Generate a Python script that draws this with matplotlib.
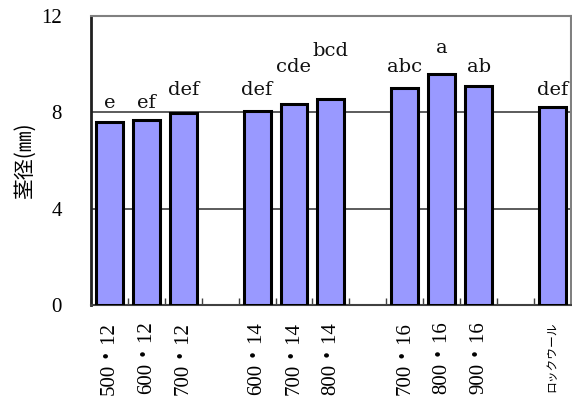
import matplotlib.pyplot as plt
import numpy as np

# データ
labels = ["500・12", "600・12", "700・12",
          "600・14", "700・14", "800・14",
          "700・16", "800・16", "900・16",
          "ロックウール"]
values = [7.6, 7.68, 7.97, 8.04, 8.35, 8.55, 9.01, 9.61, 9.09, 8.22]
letters = ["e", "ef", "def", "def", "cde", "bcd", "abc", "a", "ab", "def"]
slots = [0, 1, 2, 4, 5, 6, 8, 9, 10, 12]   # 空きスロットでグループを区切る
n_slots = 13

# 文字の高さ(段違い)
letter_y = [8.18, 8.18, 8.72, 8.72, 9.68, 10.34, 9.68, 10.48, 9.68, 8.72]

serif = ["Liberation Serif", "Noto Sans CJK JP"]

fig = plt.figure(figsize=(5.72, 4.03), dpi=100)
ax = fig.add_axes([0.159, 0.243, 0.839, 0.717])

x = np.array(slots)
ax.bar(x, values, width=0.73, color="#9999FF", edgecolor="black", linewidth=2.2, zorder=3)

for xi, t, yy in zip(x, letters, letter_y):
    ax.text(xi, yy, t, ha="center", va="baseline", fontsize=14, family="DejaVu Serif", color="#111111")

ax.set_xlim(-0.5, n_slots - 0.5)
ax.set_ylim(0, 12)
ax.set_yticks([0, 4, 8, 12])
ax.set_yticklabels(["0", "4", "8", "12"], family=serif, fontsize=15)
ax.tick_params(axis="y", length=0, pad=21)

ax.set_xticks(x)
ax.set_xticklabels(labels, rotation=90, family=serif, fontsize=15)
ax.get_xticklabels()[-1].set_fontsize(8.5)
ax.tick_params(axis="x", length=0, pad=12)
ax.set_xticks(np.arange(n_slots + 1) - 0.5, minor=True)
ax.tick_params(axis="x", which="minor", direction="in", length=5, width=1, color="#404040")

for yv in [4, 8]:
    ax.axhline(yv, color="#404040", linewidth=1.2, zorder=1)

ax.spines["left"].set_color("#202020")
ax.spines["left"].set_linewidth(2)
ax.spines["bottom"].set_color("#404040")
ax.spines["bottom"].set_linewidth(1.5)
for s in ["top", "right"]:
    ax.spines[s].set_color("#808080")
    ax.spines[s].set_linewidth(1.5)

ax.set_ylabel("茎径(㎜)", family=["Noto Sans CJK JP", "DejaVu Sans"], fontsize=15, labelpad=4)

fig.savefig("out.png", dpi=100)
